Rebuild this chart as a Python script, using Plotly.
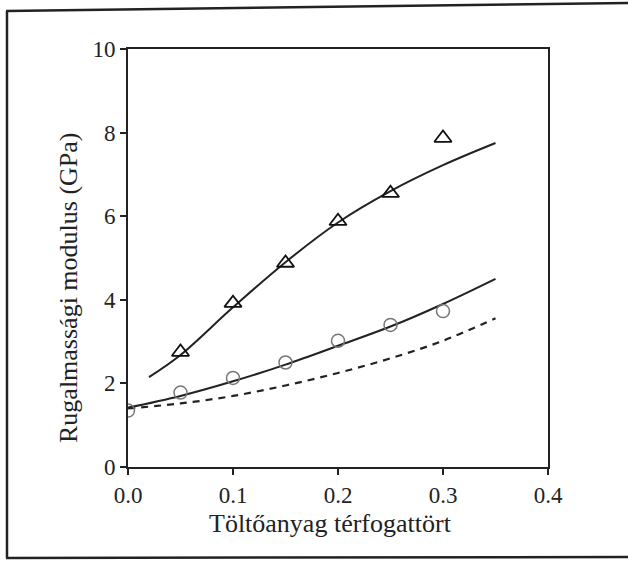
import plotly.graph_objects as go

# Measured data
tri_x = [0.05, 0.10, 0.15, 0.20, 0.25, 0.30]
tri_y = [2.75, 3.92, 4.88, 5.88, 6.55, 7.87]
circ_x = [0.00, 0.05, 0.10, 0.15, 0.20, 0.25, 0.30]
circ_y = [1.35, 1.78, 2.13, 2.50, 3.02, 3.40, 3.73]

# Model curves
upper_x = [0.02, 0.05, 0.10, 0.15, 0.20, 0.25, 0.30, 0.35]
upper_y = [2.15, 2.68, 3.82, 4.90, 5.85, 6.60, 7.22, 7.75]
mid_x = [0.00, 0.05, 0.10, 0.15, 0.20, 0.25, 0.30, 0.35]
mid_y = [1.42, 1.70, 2.05, 2.45, 2.90, 3.36, 3.90, 4.50]
dash_x = [0.00, 0.05, 0.10, 0.15, 0.20, 0.25, 0.30, 0.35]
dash_y = [1.40, 1.52, 1.70, 1.95, 2.25, 2.60, 3.02, 3.56]

x_ticks = [0.0, 0.1, 0.2, 0.3, 0.4]
x_tick_labels = ["0.0", "0.1", "0.2", "0.3", "0.4"]
y_ticks = [0, 2, 4, 6, 8, 10]

FONT = "Liberation Serif"

fig = go.Figure()
fig.add_trace(go.Scatter(x=upper_x, y=upper_y, mode="lines", line=dict(color="#222", width=2, shape="spline")))
fig.add_trace(go.Scatter(x=mid_x, y=mid_y, mode="lines", line=dict(color="#222", width=2, shape="spline")))
fig.add_trace(go.Scatter(x=dash_x, y=dash_y, mode="lines", line=dict(color="#222", width=2.2, dash="7px,6px", shape="spline")))
fig.add_trace(go.Scatter(x=tri_x, y=tri_y, mode="markers",
                         marker=dict(symbol="triangle-up-open", size=15, color="#111", line=dict(width=1.8))))
fig.add_trace(go.Scatter(x=circ_x, y=circ_y, mode="markers",
                         marker=dict(symbol="circle-open", size=13, color="#777", line=dict(width=1.5))))

fig.update_layout(
    width=628, height=564,
    margin=dict(l=128, r=80, t=49, b=97),
    paper_bgcolor="white", plot_bgcolor="white",
    showlegend=False,
    font=dict(family=FONT, color="#222", size=23),
    xaxis=dict(range=[0, 0.4], tickmode="array", tickvals=x_ticks, ticktext=x_tick_labels,
               showgrid=False, zeroline=False, showline=True, linecolor="#222", linewidth=2,
               mirror=True, ticks="outside", ticklen=6, tickwidth=1.5, tickcolor="#222",
               tickfont=dict(family=FONT, size=23, color="#222")),
    yaxis=dict(range=[0, 10], tickmode="array", tickvals=y_ticks,
               showgrid=False, zeroline=False, showline=True, linecolor="#222", linewidth=2,
               mirror=True, ticks="outside", ticklen=6, tickwidth=1.5, tickcolor="#222",
               tickfont=dict(family=FONT, size=23, color="#222")),
    annotations=[
        dict(text="Töltőanyag térfogattört", xref="paper", yref="paper",
             x=(330 - 128) / 420, y=(467 - 523) / 418, showarrow=False,
             font=dict(family=FONT, size=26, color="#222"), xanchor="center", yanchor="middle"),
        dict(text="Rugalmassági modulus (GPa)", xref="paper", yref="paper",
             x=(68 - 128) / 420, y=(467 - 288) / 418, showarrow=False, textangle=-90,
             font=dict(family=FONT, size=26, color="#222"), xanchor="center", yanchor="middle"),
    ],
)

def px(xp):
    return (xp - 128) / 420

def py(yp):
    return (467 - yp) / 418

frame = [((6, 11), (628, 3)), ((7, 11), (7, 558)), ((6, 558), (628, 557))]
for (x0, y0), (x1, y1) in frame:
    fig.add_shape(type="line", xref="paper", yref="paper",
                  x0=px(x0), y0=py(y0), x1=px(x1), y1=py(y1),
                  line=dict(color="#222", width=2.5))

fig.write_html("out.html")
